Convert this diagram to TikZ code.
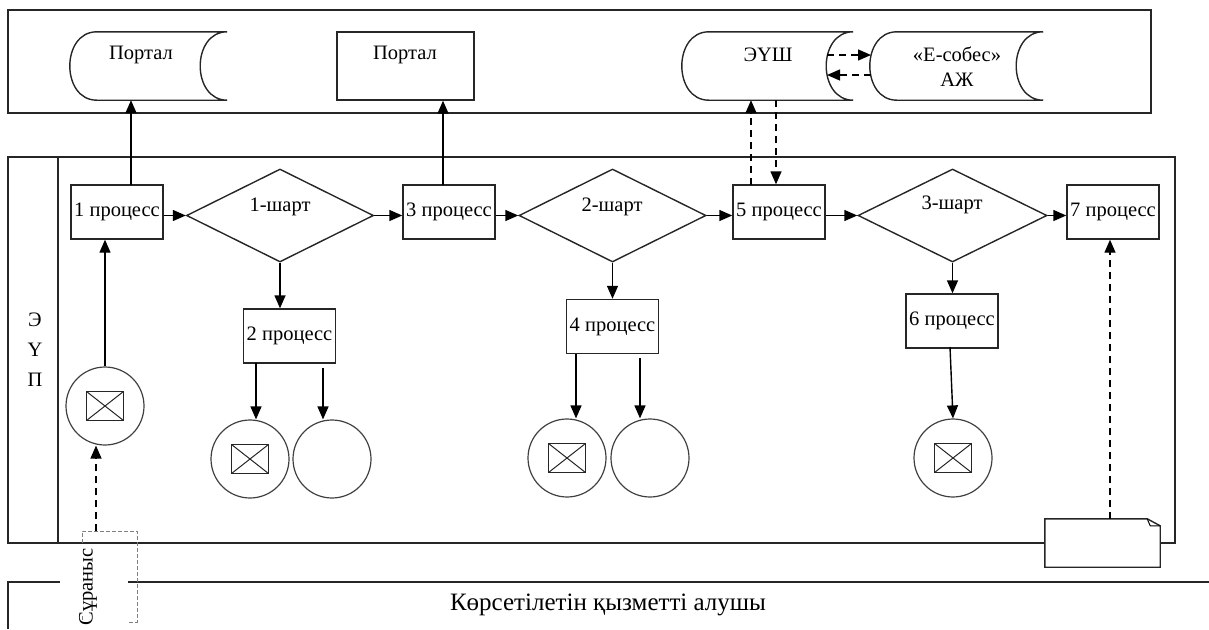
\documentclass[tikz,border=0pt]{standalone}
\usepackage{fontspec}
\setmainfont{Liberation Serif}
\usetikzlibrary{shapes.geometric,arrows.meta,calc}

% outline of a "stored data" symbol around an (invisible) node
\newcommand\storedshape[2]{%
  \draw[box] ($(#1.north west)+(#2,0)$) -- (#1.north east)
    .. controls ($(#1.north east)+(-4*#2/3,0)$) and ($(#1.south east)+(-4*#2/3,0)$) .. (#1.south east)
    -- ($(#1.south west)+(#2,0)$)
    .. controls ($(#1.south west)+(-#2/3,0)$) and ($(#1.north west)+(-#2/3,0)$) .. cycle;}

\begin{document}
\begin{tikzpicture}[x=1pt,y=-1pt,
  font=\fontsize{20.5}{25}\selectfont,
  lane/.style={line width=1.8pt, draw=black!85},
  box/.style={line width=1.4pt, draw=black!85},
  flow/.style={line width=1.4pt, -{Triangle[length=13pt,width=11pt]}},
  dflow/.style={flow, dash pattern=on 7pt off 5pt},
  sd/.style={minimum height=68pt, inner sep=0pt},
  proc/.style={box, rectangle, minimum width=92pt, minimum height=54pt, inner sep=0pt, fill=white},
  cond/.style={box, diamond, minimum width=187pt, minimum height=93pt, inner sep=0pt},
  endc/.style={circle, draw=black!75, line width=1.2pt, minimum size=78pt, inner sep=0pt},
  env/.style={rectangle, draw=black!85, line width=1.4pt, minimum width=37pt, minimum height=29pt, inner sep=0pt,
    path picture={\draw[line width=1pt] (path picture bounding box.north west) -- (path picture bounding box.south east)
      (path picture bounding box.south west) -- (path picture bounding box.north east);}},
]
\useasboundingbox (0,0) rectangle (1209,629);

% ---------- lanes ----------
\draw[lane] (8,10) rectangle (1151,113);
\draw[lane] (8,157) rectangle (1175,543);
\draw[lane] (58,157) -- (58,543);
\draw[lane] (8,629) -- (8,582) -- (60,582);
\draw[lane] (128,582) -- (1209,582);

\node at (35,320) {Э};
\node at (35,350) {Ү};
\node at (35,380) {П};
\node[font=\fontsize{25}{30}\selectfont] (client) at (608,605) {Көрсетілетін қызметті алушы};

% ---------- upper lane: systems ----------
\node[sd, minimum width=157pt] (p1) at (148.5,66) {};
\storedshape{p1}{27}
\node (p1t) at (141,55) {Портал};

\node[box, rectangle, minimum width=137pt, minimum height=68pt] (p2) at (405.5,66) {};
\node (p2t) at (405,55) {Портал};

\node[sd, minimum width=171pt] (eush) at (767.5,66) {};
\storedshape{eush}{27}
\node (eusht) at (768,55) {ЭҮШ};

\node[sd, minimum width=173pt] (esob) at (956.5,66) {};
\storedshape{esob}{27}
\node[align=center] (esobt) at (957,67) {«Е-собес»\\АЖ};

\coordinate (x1) at (827,55);
\coordinate (x2) at (871,75);
\draw[dflow] (x1) -- (x1 -| x2);
\draw[dflow] (x2) -- (x2 -| x1);

% ---------- main lane: processes ----------
\node[proc] (pr1) at (117,212) {1 процесс};
\node[cond] (d1) at (280,215.5) {};
\node (d1t) at (280,207) {1-шарт};
\node[proc] (pr3) at (449,212) {3 процесс};
\node[cond] (d2) at (612.5,215.5) {};
\node (d2t) at (612,207) {2-шарт};
\node[proc] (pr5) at (779,212) {5 процесс};
\node[cond, minimum width=189pt] (d3) at (952.5,215.5) {};
\node (d3t) at (952,205) {3-шарт};
\node[proc] (pr7) at (1113,212) {7 процесс};

\node[proc] (pr2) at (289.5,336) {2 процесс};
\node[proc] (pr4) at (612.5,326.5) {4 процесс};
\node[proc] (pr6) at (952,321) {6 процесс};

\draw[flow] (pr1.east |- d1.west) -- (d1.west);
\draw[flow] (d1.east) -- (pr3.west |- d1.east);
\draw[flow] (pr3.east |- d2.west) -- (d2.west);
\draw[flow] (d2.east) -- (pr5.west |- d2.east);
\draw[flow] (pr5.east |- d3.west) -- (d3.west);
\draw[flow] (d3.east) -- (pr7.west |- d3.east);

\draw[flow] (d1.south) -- (d1.south |- pr2.north);
\draw[flow] (d2.south) -- (d2.south |- pr4.north);
\draw[flow] (d3.south) -- (d3.south |- pr6.north);

% links to the upper lane
\coordinate (u1) at (131,185);
\draw[flow] (u1) -- (u1 |- p1.south);
\coordinate (u3) at (443,185);
\draw[flow] (u3) -- (u3 |- p2.south);
\coordinate (u5) at (751,185);
\draw[dflow] (u5) -- (u5 |- eush.south);
\coordinate (d5) at (776,100);
\draw[dflow] (d5) -- (d5 |- pr5.north);

% ---------- start and end events ----------
\node[endc] (c0) at (105,406) {};
\node[env] (e0) at (c0) {};
\draw[flow] (c0.north) -- (c0.north |- pr1.south);

\node[endc] (c2a) at (250,459) {};
\node[env] (e2a) at (c2a) {};
\node[endc] (c2b) at (332,459) {};
\coordinate (s2a) at (256,363);
\coordinate (s2b) at (323,368);
\draw[flow] (s2a) -- (s2a |- c2a.north);
\draw[flow] (s2b) -- (s2b |- c2b.north);

\node[endc] (c4a) at (567,458) {};
\node[env] (e4a) at (c4a) {};
\node[endc] (c4b) at (650,458) {};
\coordinate (s4a) at (576,354);
\coordinate (s4b) at (640,358);
\draw[flow] (s4a) -- (s4a |- c4a.north);
\draw[flow] (s4b) -- (s4b |- c4b.north);

\node[endc] (c6) at (953,458) {};
\node[env] (e6) at (c6) {};
\coordinate (s6) at (950,347);
\draw[flow] (s6) -- (c6.north);

% ---------- document note ----------
\node[minimum width=115pt, minimum height=48pt, inner sep=0pt] (note) at (1102.5,543) {};
\fill[white] (note.north west) rectangle (note.south east);
\draw[box] (note.north west) -- ($(note.north east)+(-13,0)$) -- ($(note.north east)+(0,7)$)
  -- (note.south east) -- (note.south west) -- cycle;
\draw[line width=1pt] ($(note.north east)+(-13,0)$) -- ($(note.north east)+(-10,7)$) -- ($(note.north east)+(0,7)$);
\coordinate (n7) at (1110,519);
\draw[dflow] (n7) -- (n7 |- pr7.south);

% ---------- request ----------
\draw[gray, line width=1pt, dash pattern=on 4pt off 2pt]
  (82,543) -- (82,531) -- (137,531) -- (137,622) -- (128,622)
  (82,616) -- (82,622) -- (90,622);
\node[rotate=90, inner sep=1pt] (req) at (88,587) {Сұраныс};
\coordinate (q) at (96,531);
\draw[dflow] (q) -- (q |- c0.south);

\end{tikzpicture}
\end{document}
